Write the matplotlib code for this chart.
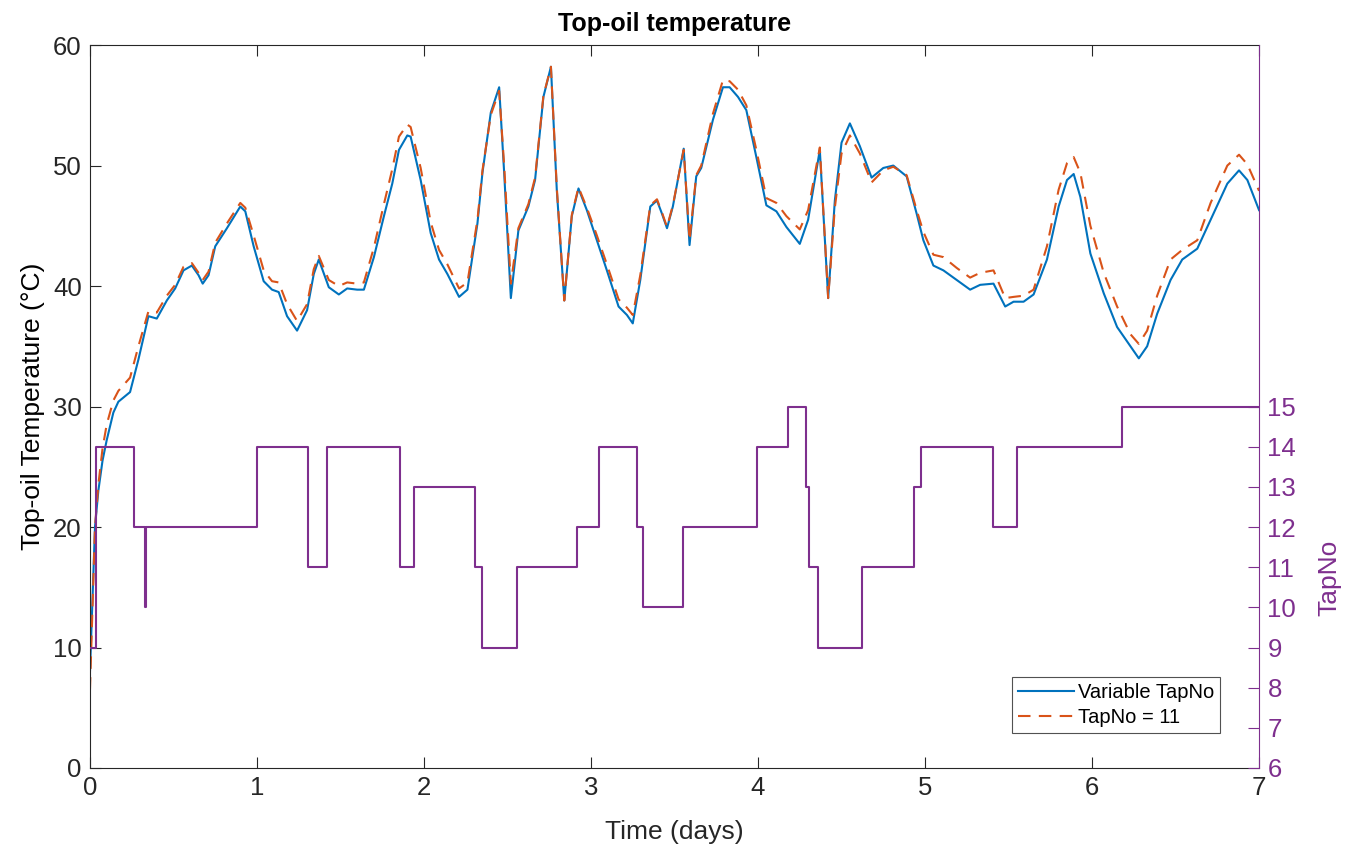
import numpy as np
import matplotlib
matplotlib.use("Agg")
import matplotlib.pyplot as plt

plt.rcParams['font.family'] = ['Liberation Sans', 'DejaVu Sans']

# time axis (days) shared by both temperature series
t = [0, 0.01, 0.02, 0.03, 0.05, 0.075, 0.1, 0.14, 0.17, 0.24, 0.29, 0.35, 0.40, 0.46,
     0.51, 0.56, 0.61, 0.65, 0.675, 0.71, 0.75, 0.82, 0.90, 0.93, 0.98, 1.04, 1.09,
     1.13, 1.18, 1.24, 1.30, 1.34, 1.37, 1.43, 1.49, 1.54, 1.60, 1.64, 1.70, 1.76,
     1.81, 1.85, 1.90, 1.92, 1.98, 2.04, 2.09, 2.14, 2.21, 2.26, 2.32, 2.35, 2.40,
     2.45, 2.48, 2.52, 2.565, 2.625, 2.665, 2.715, 2.76, 2.795, 2.84, 2.885, 2.925,
     2.975, 3.035, 3.095, 3.165, 3.215, 3.25, 3.295, 3.355, 3.395, 3.425, 3.455, 3.49,
     3.555, 3.59, 3.63, 3.66, 3.73, 3.79, 3.83, 3.88, 3.93, 3.99, 4.05, 4.11, 4.17,
     4.25, 4.30, 4.37, 4.42, 4.46, 4.50, 4.55, 4.61, 4.68, 4.75, 4.81, 4.89, 4.95,
     4.99, 5.05, 5.11, 5.19, 5.27, 5.33, 5.41, 5.48, 5.53, 5.59, 5.65, 5.73, 5.80,
     5.85, 5.89, 5.93, 5.99, 6.07, 6.15, 6.23, 6.28, 6.33, 6.39, 6.47, 6.54, 6.63,
     6.71, 6.81, 6.88, 6.93, 7.0]

# top-oil temperature with variable tap
temp_var = [8, 12, 16, 20, 23, 25.5, 27.2, 29.5, 30.4, 31.2, 33.9, 37.5, 37.3, 38.8,
            39.8, 41.3, 41.7, 40.9, 40.2, 40.9, 43.3, 44.8, 46.6, 46.2, 43.3, 40.4, 39.7,
            39.5, 37.5, 36.3, 38.0, 41.0, 42.2, 39.9, 39.3, 39.8, 39.7, 39.7, 42.4, 45.8,
            48.5, 51.3, 52.5, 52.4, 48.8, 44.4, 42.2, 41.0, 39.1, 39.7, 45.2, 49.4, 54.4,
            56.5, 49.4, 39.0, 44.6, 46.6, 48.8, 55.7, 58.2, 48.0, 38.8, 45.8, 48.1,
            46.3, 43.8, 41.3, 38.3, 37.6, 36.9, 40.5, 46.6, 47.1, 46.0, 44.8, 46.6,
            51.4, 43.4, 49.1, 49.8, 53.8, 56.5, 56.5, 55.7, 54.6, 50.7, 46.7, 46.2, 44.9,
            43.5, 45.5, 51.3, 39.0, 47.1, 51.9, 53.5, 51.6, 49.0, 49.8, 50.0, 49.1, 46.0,
            43.8, 41.7, 41.3, 40.5, 39.7, 40.1, 40.2, 38.3, 38.7, 38.7, 39.3, 42.2, 46.6,
            48.8, 49.3, 47.4, 42.7, 39.4, 36.6, 35.0, 34.0, 35.0, 37.7, 40.5, 42.2, 43.1,
            45.5, 48.5, 49.6, 48.8, 46.3]

# top-oil temperature with fixed tap 11
temp_fixed = [6.5, 11, 15.5, 20, 23.5, 26.5, 28.5, 30.5, 31.3, 32.4, 35, 37.9, 37.8, 39.2,
              40.1, 41.6, 41.9, 41.1, 40.5, 41.2, 43.6, 45.2, 46.9, 46.5, 44.2, 41.3, 40.4,
              40.3, 38.5, 37.1, 38.5, 41.4, 42.5, 40.5, 40.0, 40.3, 40.2, 40.3, 43.2, 46.8,
              49.7, 52.4, 53.4, 53.2, 49.8, 45.3, 43.0, 41.8, 39.8, 40.3, 45.5, 49.6, 54.2,
              56.2, 50.0, 40.2, 44.8, 46.8, 49.0, 55.8, 58.2, 48.2, 38.8, 45.9, 48.2,
              46.5, 44.2, 41.8, 38.9, 38.2, 37.6, 40.9, 46.7, 47.2, 46.1, 44.9, 46.7,
              51.3, 43.8, 49.2, 50.0, 54.3, 57.1, 57.0, 56.3, 55.0, 51.3, 47.3, 46.9, 45.8,
              44.7, 46.3, 51.5, 39.0, 46.5, 51.0, 52.5, 51.0, 48.6, 49.6, 49.9, 49.2, 46.3,
              44.5, 42.6, 42.4, 41.5, 40.7, 41.1, 41.3, 39.0, 39.1, 39.2, 39.7, 43.3, 48.0,
              50.2, 50.7, 49.4, 45.0, 41.1, 38.3, 36.0, 35.2, 36.3, 39.2, 42.2, 43.0, 43.8,
              46.9, 50.0, 50.9, 50.1, 47.9]

# tap position changes (step, value holds until next time)
tap_t = [0, 0.036, 0.265, 0.329, 0.336, 1.0, 1.303, 1.418, 1.856, 1.938, 2.303, 2.349,
         2.555, 2.914, 3.045, 3.277, 3.313, 3.55, 3.993, 4.178, 4.289, 4.306, 4.36,
         4.621, 4.935, 4.976, 5.409, 5.549, 6.178, 7.0]
tap_no = [9, 14, 12, 10, 12, 14, 11, 14, 11, 13, 11, 9, 11, 12, 14, 12, 10, 12, 14,
          15, 13, 11, 9, 11, 13, 14, 12, 14, 15, 15]

blue = '#0072BD'
orange = '#D95319'
purple = '#7E2F8E'
axcol = '#262626'

fig = plt.figure(figsize=(13.45, 8.52), dpi=100)
ax = fig.add_axes([0.0669, 0.0986, 0.8692, 0.8485])

l1, = ax.plot(t, temp_var, color=blue, lw=1.5, label='Variable TapNo')
l2, = ax.plot(t, temp_fixed, color=orange, lw=1.5, ls=(0, (6, 4)), label='TapNo = 11')
ax.set_xlim(0, 7)
ax.set_ylim(0, 60)
ax.set_xticks(range(0, 8))
ax.set_yticks(range(0, 61, 10))
ax.tick_params(direction='in', length=8, width=0.8, labelsize=18.5, colors=axcol,
               top=True, right=False, pad=6)
for s in ['left', 'bottom', 'top']:
    ax.spines[s].set_color(axcol)
    ax.spines[s].set_linewidth(0.8)
ax.spines['right'].set_visible(False)
ax.set_xlabel('Time (days)', fontsize=19, color=axcol, labelpad=14)
ax.set_ylabel('Top-oil Temperature (°C)', fontsize=19, color='black', labelpad=6)
ax.set_title('Top-oil temperature', fontsize=18, fontweight='bold', pad=10)

ax2 = ax.twinx()
ax2.step(tap_t, tap_no, where='post', color=purple, lw=1.5)
ax2.set_ylim(6, 24)
ax2.set_yticks(range(6, 16))
ax2.tick_params(axis='y', direction='in', length=8, width=0.8, labelsize=18.5,
                colors=purple, pad=6)
for s in ['left', 'bottom', 'top']:
    ax2.spines[s].set_visible(False)
ax2.spines['right'].set_color(purple)
ax2.spines['right'].set_linewidth(0.8)
ax2.set_ylabel('TapNo', fontsize=19, color=purple)
ax2.yaxis.set_label_coords(1.050, 0.263)

leg = ax2.legend(handles=[l1, l2], loc='lower right', bbox_to_anchor=(0.967, 0.048),
                 borderaxespad=0, fontsize=14.5, frameon=True, fancybox=False,
                 handlelength=2.8, handletextpad=0.2, borderpad=0.3, labelspacing=0.3)
leg.get_frame().set_edgecolor(axcol)
leg.get_frame().set_linewidth(0.8)

fig.savefig('out.png', dpi=100)
